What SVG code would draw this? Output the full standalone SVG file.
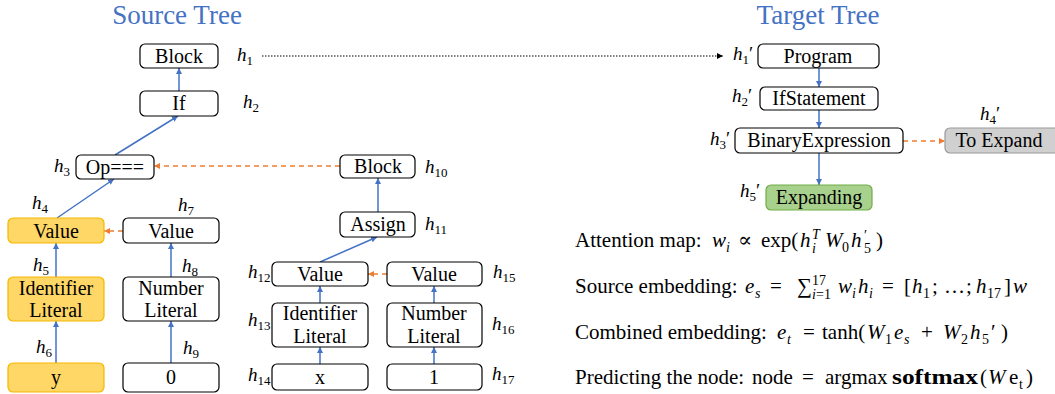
<svg xmlns="http://www.w3.org/2000/svg" width="1055" height="394" viewBox="0 0 1055 394" font-family="Liberation Serif, Tinos, Times New Roman, DejaVu Serif, serif">
<style>
text{fill:#000}
.t{font-size:20px;text-anchor:middle}
.title{font-size:27px;fill:#4472C4;text-anchor:middle}
.b{fill:#fff;stroke:#000;stroke-width:1.2}
.y{fill:#FFD766;stroke:#F5B800;stroke-width:1.2}
.g{fill:#A9D18E;stroke:#70AD47;stroke-width:1.2}
.gr{fill:#D0D0D0;stroke:#9A9A9A;stroke-width:1.2}
.h{font-size:19px;font-style:italic}
.s{font-size:13px;font-style:normal}
.f{font-size:21px}
.i{font-style:italic}
.sm{font-size:14px}
.blue{stroke:#4472C4;stroke-width:1.5;fill:none;marker-end:url(#ab)}
.or{stroke:#ED7D31;stroke-width:1.5;fill:none;stroke-dasharray:5 4;marker-end:url(#ao)}
.dot{stroke:#000;stroke-width:1.2;fill:none;stroke-dasharray:1.5 1.5;marker-end:url(#ak)}
</style>
<defs>
<marker id="ab" markerWidth="8" markerHeight="8" refX="6" refY="3" orient="auto" markerUnits="userSpaceOnUse"><path d="M0,0 L6,3 L0,6 z" fill="#4472C4"/></marker>
<marker id="ao" markerWidth="8" markerHeight="8" refX="6" refY="3" orient="auto" markerUnits="userSpaceOnUse"><path d="M0,0 L6,3 L0,6 z" fill="#ED7D31"/></marker>
<marker id="ak" markerWidth="8" markerHeight="8" refX="6" refY="3" orient="auto" markerUnits="userSpaceOnUse"><path d="M0,0 L6,3 L0,6 z" fill="#000"/></marker>
</defs>

<text class="title" x="177" y="24">Source Tree</text>
<text class="title" x="818" y="24">Target Tree</text>

<g id="connectors">
<path class="blue" d="M179,91 L179,68"/>
<path class="blue" d="M115,155 L178,116"/>
<path class="blue" d="M57,218 L114,179"/>
<path class="blue" d="M56,277 L56,243"/>
<path class="blue" d="M56,363 L56,321"/>
<path class="blue" d="M171,277 L171,243"/>
<path class="blue" d="M171,363 L171,321"/>
<path class="or" d="M123,231 L104,231"/>
<path class="or" d="M340,166 L154,166"/>
<path class="blue" d="M378,212 L378,178"/>
<path class="blue" d="M320,262 L377,237"/>
<path class="blue" d="M320,303 L320,286"/>
<path class="blue" d="M320,364 L320,347"/>
<path class="blue" d="M434,303 L434,286"/>
<path class="blue" d="M434,364 L434,347"/>
<path class="or" d="M387,274 L368,274"/>
<path class="dot" d="M262,56 L723,56"/>
<path class="blue" d="M819,68 L819,87"/>
<path class="blue" d="M819,110 L819,128"/>
<path class="blue" d="M819,153 L819,185"/>
<path class="or" d="M903,141 L945,141"/>
</g>

<g id="n1"><rect class="b" x="140" y="44" width="78" height="24" rx="5"/><text class="t" x="179" y="63">Block</text>
<text class="h" x="237" y="61">h<tspan class="s" dy="4">1</tspan></text></g>
<g id="n2"><rect class="b" x="140" y="91" width="78" height="25" rx="5"/><text class="t" x="179" y="110">If</text>
<text class="h" x="243" y="108">h<tspan class="s" dy="4">2</tspan></text></g>
<g id="n3"><rect class="b" x="76" y="155" width="78" height="24" rx="5"/><text class="t" x="115" y="174">Op===</text>
<text class="h" x="54" y="172">h<tspan class="s" dy="4">3</tspan></text></g>
<g id="n4"><rect class="y" x="8" y="218" width="96" height="25" rx="5"/><text class="t" x="56" y="238">Value</text>
<text class="h" x="32" y="209">h<tspan class="s" dy="4">4</tspan></text></g>
<g id="n5"><rect class="y" x="8" y="277" width="96" height="44" rx="5"/><text class="t" x="56" y="295">Identifier</text><text class="t" x="56" y="317">Literal</text>
<text class="h" x="33" y="271">h<tspan class="s" dy="4">5</tspan></text></g>
<g id="n6"><rect class="y" x="8" y="363" width="96" height="29" rx="5"/><text class="t" x="56" y="384">y</text>
<text class="h" x="36" y="353">h<tspan class="s" dy="4">6</tspan></text></g>
<g id="n7"><rect class="b" x="123" y="218" width="96" height="25" rx="5"/><text class="t" x="171" y="238">Value</text>
<text class="h" x="178" y="211">h<tspan class="s" dy="4">7</tspan></text></g>
<g id="n8"><rect class="b" x="123" y="277" width="96" height="44" rx="5"/><text class="t" x="171" y="295">Number</text><text class="t" x="171" y="317">Literal</text>
<text class="h" x="182" y="272">h<tspan class="s" dy="4">8</tspan></text></g>
<g id="n9"><rect class="b" x="123" y="363" width="96" height="29" rx="5"/><text class="t" x="171" y="384">0</text>
<text class="h" x="183" y="354">h<tspan class="s" dy="4">9</tspan></text></g>
<g id="n10"><rect class="b" x="340" y="155" width="75" height="23" rx="5"/><text class="t" x="378" y="173">Block</text>
<text class="h" x="425" y="173">h<tspan class="s" dy="4">10</tspan></text></g>
<g id="n11"><rect class="b" x="340" y="212" width="75" height="25" rx="5"/><text class="t" x="378" y="231">Assign</text>
<text class="h" x="425" y="230">h<tspan class="s" dy="4">11</tspan></text></g>
<g id="n12"><rect class="b" x="272" y="262" width="96" height="24" rx="5"/><text class="t" x="320" y="281">Value</text>
<text class="h" x="248" y="278">h<tspan class="s" dy="4">12</tspan></text></g>
<g id="n13"><rect class="b" x="272" y="303" width="96" height="44" rx="5"/><text class="t" x="320" y="320">Identifier</text><text class="t" x="320" y="343">Literal</text>
<text class="h" x="248" y="326">h<tspan class="s" dy="4">13</tspan></text></g>
<g id="n14"><rect class="b" x="272" y="364" width="96" height="26" rx="5"/><text class="t" x="320" y="384">x</text>
<text class="h" x="248" y="381">h<tspan class="s" dy="4">14</tspan></text></g>
<g id="n15"><rect class="b" x="387" y="262" width="95" height="24" rx="5"/><text class="t" x="434" y="281">Value</text>
<text class="h" x="493" y="278">h<tspan class="s" dy="4">15</tspan></text></g>
<g id="n16"><rect class="b" x="387" y="303" width="95" height="44" rx="5"/><text class="t" x="434" y="320">Number</text><text class="t" x="434" y="343">Literal</text>
<text class="h" x="492" y="330">h<tspan class="s" dy="4">16</tspan></text></g>
<g id="n17"><rect class="b" x="387" y="364" width="95" height="26" rx="5"/><text class="t" x="434" y="384">1</text>
<text class="h" x="492" y="380">h<tspan class="s" dy="4">17</tspan></text></g>

<g id="t1"><rect class="b" x="758" y="44" width="121" height="24" rx="5"/><text class="t" x="818" y="63">Program</text>
<text class="h" x="733" y="60">h<tspan class="s" dy="4">1</tspan><tspan dy="-4" font-style="normal">′</tspan></text></g>
<g id="t2"><rect class="b" x="760" y="87" width="118" height="23" rx="5"/><text class="t" x="819" y="105">IfStatement</text>
<text class="h" x="732" y="102">h<tspan class="s" dy="4">2</tspan><tspan dy="-4" font-style="normal">′</tspan></text></g>
<g id="t3"><rect class="b" x="735" y="128" width="168" height="25" rx="5"/><text class="t" x="819" y="147">BinaryExpression</text>
<text class="h" x="710" y="145">h<tspan class="s" dy="4">3</tspan><tspan dy="-4" font-style="normal">′</tspan></text></g>
<g id="t4"><rect class="gr" x="945" y="128" width="115" height="25" rx="5"/><text class="t" x="999" y="147">To Expand</text>
<text class="h" x="980" y="120">h<tspan class="s" dy="4">4</tspan><tspan dy="-4" font-style="normal">′</tspan></text></g>
<g id="t5"><rect class="g" x="766" y="185" width="106" height="25" rx="5"/><text class="t" x="819" y="204">Expanding</text>
<text class="h" x="740" y="197">h<tspan class="s" dy="4">5</tspan><tspan dy="-4" font-style="normal">′</tspan></text></g>

<g id="formulas">
<text class="f" x="575" y="247">Attention map:</text>
<text class="f"><tspan class="i" x="712" y="247">w</tspan><tspan class="i sm" x="726" y="252">i</tspan><tspan x="738" y="247">∝</tspan><tspan x="761" y="247">exp(</tspan><tspan class="i" x="800" y="247">h</tspan><tspan class="i sm" x="812" y="239">T</tspan><tspan class="i sm" x="812" y="253">i</tspan><tspan class="i" x="825" y="247">W</tspan><tspan class="sm" x="842" y="252">0</tspan><tspan class="i" x="851" y="247">h</tspan><tspan x="864" y="240" class="sm">′</tspan><tspan class="sm" x="864" y="253">5</tspan><tspan x="876" y="247">)</tspan></text>

<text class="f" x="575" y="293">Source embedding:</text>
<text class="f"><tspan class="i" x="745" y="293">e</tspan><tspan class="i sm" x="755" y="298">s</tspan><tspan x="770" y="293">=</tspan><tspan x="797" y="293">∑</tspan><tspan class="sm" x="812" y="285">17</tspan><tspan class="i sm" x="812" y="299">i</tspan><tspan class="sm" x="816" y="299">=1</tspan><tspan class="i" x="838" y="293">w</tspan><tspan class="i sm" x="852" y="298">i</tspan><tspan class="i" x="858" y="293">h</tspan><tspan class="i sm" x="869" y="298">i</tspan><tspan x="882" y="293">=</tspan><tspan x="904" y="293">[</tspan><tspan class="i" x="912" y="293">h</tspan><tspan class="sm" x="923" y="298">1</tspan><tspan x="932" y="293">;</tspan><tspan x="944" y="293">…</tspan><tspan x="966" y="293">;</tspan><tspan class="i" x="976" y="293">h</tspan><tspan class="sm" x="987" y="298">17</tspan><tspan x="1004" y="293">]</tspan><tspan class="i" x="1013" y="293">w</tspan></text>

<text class="f" x="575" y="339">Combined embedding:</text>
<text class="f"><tspan class="i" x="777" y="339">e</tspan><tspan class="i sm" x="787" y="344">t</tspan><tspan x="803" y="339">=</tspan><tspan x="822" y="339">tanh(</tspan><tspan class="i" x="867" y="339">W</tspan><tspan class="sm" x="885" y="344">1</tspan><tspan class="i" x="894" y="339">e</tspan><tspan class="i sm" x="904" y="344">s</tspan><tspan x="921" y="339">+</tspan><tspan class="i" x="943" y="339">W</tspan><tspan class="sm" x="961" y="344">2</tspan><tspan class="i" x="970" y="339">h</tspan><tspan class="sm" x="982" y="344">5</tspan><tspan x="991" y="339">′</tspan><tspan x="1001" y="339">)</tspan></text>

<text class="f" x="575" y="384">Predicting the node:</text>
<text class="f"><tspan x="752" y="384">node</tspan><tspan x="802" y="384">=</tspan><tspan x="825" y="384">argmax</tspan><tspan x="892" y="384" font-weight="bold" font-size="22" textLength="86" lengthAdjust="spacingAndGlyphs">softmax</tspan><tspan x="980" y="384">(</tspan><tspan class="i" x="988" y="384">W</tspan><tspan x="1009" y="384">e</tspan><tspan class="sm" x="1019" y="389">t</tspan><tspan x="1026" y="384">)</tspan></text>
</g>
</svg>
